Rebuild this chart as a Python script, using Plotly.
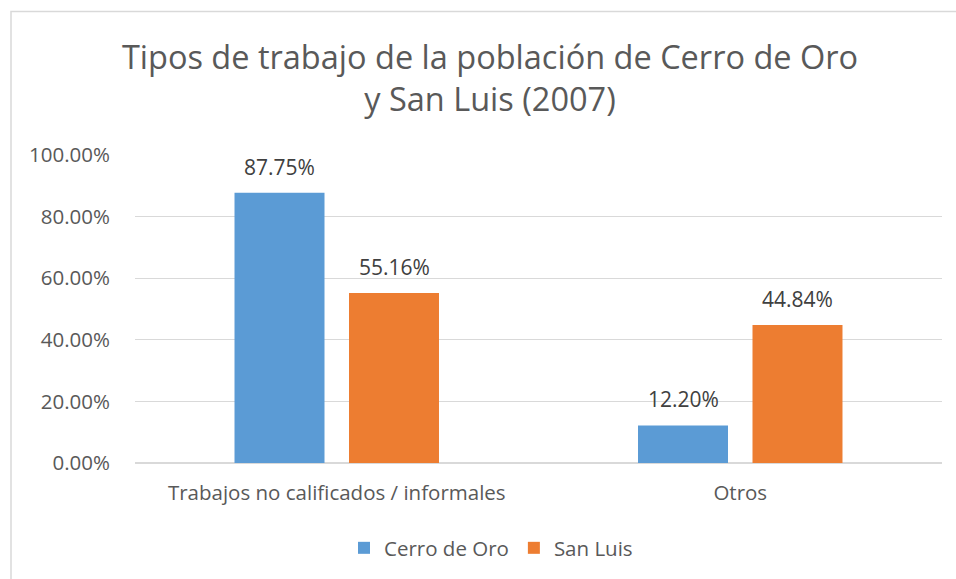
import plotly.graph_objects as go

categories = ["Trabajos no calificados / informales", "Otros"]
cerro_de_oro = [87.75, 12.20]
san_luis = [55.16, 44.84]
series_names = ["Cerro de Oro", "San Luis"]
tick_vals = [0, 20, 40, 60, 80, 100]
tick_text = ["0.00%", "20.00%", "40.00%", "60.00%", "80.00%", "100.00%"]

FONT = "Open Sans"
GREY = "#595959"
W, H = 956, 579
L, R, T, B = 135, 14, 155, 115
PW, PH = W - L - R, H - T - B
colors = ["#5B9BD5", "#ED7D31"]
series = [cerro_de_oro, san_luis]

fig = go.Figure()
for name, vals, col in zip(series_names, series, colors):
    fig.add_trace(go.Bar(
        x=categories, y=vals, name=name,
        marker=dict(color=col, line=dict(width=0)),
        hoverinfo="x+y+name",
    ))

# data labels as annotations tied to data values
slot_half = 57.25
for i, vals in enumerate(series):
    for cat, v in zip(categories, vals):
        fig.add_annotation(
            x=cat, y=v, xref="x", yref="y", text=f"{v:.2f}%",
            showarrow=False, xanchor="center", yanchor="bottom",
            xshift=(-slot_half if i == 0 else slot_half), yshift=10,
            font=dict(family=FONT, size=21, color="#404040"),
        )

fig.update_layout(
    width=W, height=H,
    margin=dict(l=L, r=R, t=T, b=B),
    paper_bgcolor="white", plot_bgcolor="white",
    barmode="group", bargap=0.4325, bargroupgap=0.214,
    font=dict(family=FONT, color=GREY),
    title=dict(text="Tipos de trabajo de la población de Cerro de Oro<br>y San Luis (2007)",
               x=490 / W, xref="container", xanchor="center",
               y=1 - 68.5 / H, yref="container", yanchor="middle",
               font=dict(family=FONT, size=32.5, color=GREY)),
    showlegend=True,
    legend=dict(orientation="h", x=(491 - L) / PW, xanchor="center",
                y=-(548 - (H - B)) / PH, yanchor="middle",
                font=dict(family=FONT, size=20.5, color=GREY), itemwidth=30,
                traceorder="normal"),
    xaxis=dict(showline=False, ticks="", ticklabelstandoff=15,
               tickfont=dict(family=FONT, size=20.5, color=GREY)),
    yaxis=dict(range=[0, 100], tickvals=tick_vals, ticktext=tick_text,
               showgrid=True, gridcolor="#D9D9D9", gridwidth=1.3, zeroline=True,
               zerolinecolor="#D9D9D9", zerolinewidth=1.6, showline=False, ticks="",
               ticklabelstandoff=24,
               tickfont=dict(family=FONT, size=20.5, color=GREY)),
)

fig.add_shape(type="rect", xref="paper", yref="paper",
              x0=-(L - 11) / PW, x1=1 + 40 / PW,
              y0=-(B + 40) / PH, y1=1 + (T - 11) / PH,
              line=dict(color="#D9D9D9", width=1.5), fillcolor="rgba(0,0,0,0)", layer="below")

fig.write_html("out.html", config={"displayModeBar": False},
               post_script="document.body.style.margin='0';")
